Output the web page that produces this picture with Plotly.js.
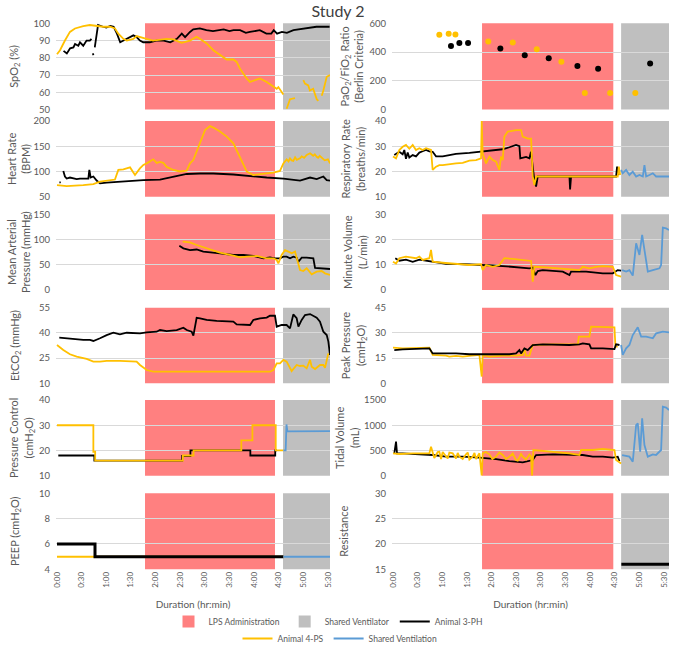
<!DOCTYPE html>
<html><head><meta charset="utf-8">
<script src="https://cdn.plot.ly/plotly-3.0.1.min.js"></script>
<style>html,body{margin:0;padding:0;background:#fff}#chart{width:676px;height:645px}</style>
</head><body><div id="chart"></div>
<script>
// ---------- DATA (time in minutes) ----------
const xTickVals = [0,30,60,90,120,150,180,210,240,270,300,330];
const xTickText = ["0:00","0:30","1:00","1:30","2:00","2:30","3:00","3:30","4:00","4:30","5:00","5:30"];

// intervals [start,end] per column
const lpsLeft = [107.2, 265.5];
const sharedLeft = [275.3, 332.5];
const lpsRight = [108.4, 268.2];
const sharedRight = [277.7, 336];

// SpO2 (%)
const spo2_PH_t = [8,12,16,20,22,26,28,32,36,40,42,null,43.5,44.5,null,46,50,56,60,65,69,73,77,81,85,93,97,101,105,113,121,130,138,146,152,156,162,166,174,182,190,195,203,210,215,223,230,235,240,247,255,261,264,268,274,280,288,296,304,316,332];
const spo2_PH_v = [84,82.5,85.5,86,88,87,89,87,90,90,91,null,82.5,81.5,null,86,99,98,97.5,98.5,98,94,89,90,91,93,92,90,89,89,90,90,89,91,94,92,95,96.5,97,96,95.5,96,96.5,95.5,96,96,94.5,95,95.5,96,94,94,96,94,95,94.5,96,96.5,97,98,98];
const spo2_PS_t = [0,3.7,9.7,15.8,21.9,32,40,48,56,64.6,70.6,74.7,80.8,85,93,97,101,109,117,125.5,133.6,141.7,151.8,162,170,174,182.3,190.4,198.5,206.7,214.8,218.8,222.9,231,235,243.2,247.2,255.4,259.4,263.5,267.6,269.6,275.7,null,279.7,283.8,289.9,null,300,302,306,308,312,316.3,318.3,null,322.4,324.4,328.5,332.5];
const spo2_PS_v = [82,84.4,90,95,97,98.4,99,98.4,98,98,97,94,91,90,91,92.6,92.2,91,90,90.7,91,90.7,88.7,90,92.2,91,88.3,84.4,81.5,79,79,77.6,73.7,68,66,67.3,68,66,64.6,63,62,63,58.7,null,50.4,56,56.6,null,67,65,64,61,62,56,55,null,58,61,69,70];

// PaO2/FiO2
const pf_PH_t = [70.6,80.8,91.4,130.7,160.4,189.6,224.5,249.7,313];
const pf_PH_v = [442,463,463,424,378,357,302,284,321];
const pf_PS_t = [56.4,67.8,76,116,145.8,175,205,233.5,264.3,295];
const pf_PS_v = [520,527,522,474,467,419,332,115,115,115];

// Heart rate (BPM)
const hr_PH_t = [3,4.5,null,7.7,9.7,11.8,15.8,24,28,38.2,39.4,41,44.3,48.3,52.4,60.5,76.7,93,105.2,125.5,141.7,158,174.2,190.4,214.8,239.1,255.4,275.7,287.8,296,308.2,316.3,324.4,328.5,332.5];
const hr_PH_v = [78,78.8,null,101,90,86,88,85,86,86,103,88,90,82,76.4,78,80,82,83,84,90,95,96,96,94,90,88,86,83,82,88,85,90,83,82];
const hr_PS_t = [0,11.8,32,44.3,52.4,64.6,70.6,74.7,80.8,89,95,101,105.2,109.2,117.3,121.4,125.5,129.5,133.6,141.7,149.8,158,162,166,174.2,180.3,186.4,190.4,198.5,206.7,214.8,222.9,231,239.1,247.3,255.4,263.5,271.6,275.7,279.7,282,283.8,285.8,287.8,290,292,296,298,301,304.1,306,308.2,312,314,316.3,318,320,324.4,326,330,332.5];
const hr_PS_v = [73,71,73,75,80,83,84,103,104,108,93,106,113,116,124,117,119,117,109,103,100,101.5,116,122.6,155.7,182,190,187,179,169,155.7,129,100,93,94,96,97.5,101,116,124,120,126,122,121,128,123,126,130,127,132.6,134,136,131,134,129,127,131,124,122,124,116];

// Respiratory rate (breaths/min)
const rr_PH_t = [1.6,7.7,11.8,13.8,15.8,17.9,19.9,24,28,32.1,36.1,40.2,44.3,48.3,52.4,60.5,68.6,76.7,93,105.2,113.3,125.5,133.6,141.7,149.8,153.9,155,162,166,168,170.1,172.1,174.2,176.2,214.8,215.6,216.8,271.6,272.8,274.9];
const rr_PH_v = [26.5,27.8,26.8,28.5,25,27.5,25.5,26.5,26,27.5,28,28.5,28,27.8,26,26,26.5,27,27.4,27.8,28.2,28.5,28.8,29.6,30.5,30,25.2,25.8,25.2,27.8,21.9,16.6,14,18,18,12.9,18,18,21.9,18.6];
const rr_PS_t = [0,3.7,7.7,11.8,15.8,19.9,24,28,32.1,36.1,40.2,44.3,46.3,48.3,52.4,56.4,60.5,76.7,84.9,93,101.1,107.2,108,109.2,113.3,117.3,121.4,125.5,129.5,131.5,133.6,135.6,139.7,149.8,155.9,157.9,164,168.1,170.1,172.1,174.2,273.6,274.9,276.5];
const rr_PS_v = [25.9,25.2,28.5,29.8,30.5,29,30.5,28.5,29.2,28.5,29.2,28.8,28.5,20.6,21.9,22.5,22.5,23.2,23.4,24.3,24.5,25.2,40,27,23.2,25.9,24.5,23.9,20.6,25.9,24.5,33.8,35.8,36.4,36.4,33.8,33,33,18,14.6,18,18,21.9,18.6];
const rr_SV_t = [277.7,279.7,283.8,287.8,291.9,296,300,304.1,306.1,308.2,312.2,316.3,320.3,336];
const rr_SV_v = [20.6,19.3,20.6,18.6,19.9,18,18.6,18,22.5,18,18.6,19.3,18,18];

// Mean arterial pressure (mmHg)
const map_PH_t = [149,153.9,162,170.1,178.2,190.4,198.5,214.8,227,239.1,251.3,259.4,265.5,271.6,275.7,279.7,283.8,287.8,291.9,294,298,304.1,310.2,312.2,314.3,320.3,328.5,332.5];
const map_PH_v = [87.9,82.6,79,80.3,76,74.7,72.7,69.4,69.4,67.4,62.8,64.7,62.8,62.8,66,66,62.8,66,64,56,64,64,64,62.8,44,43,43,41.6];
const map_PS_t = [153.1,158,162,170.1,182.3,198.5,214.8,222.9,231,243.2,255.4,263.5,267.6,269.6,273.6,277.7,281.8,285.8,289.9,291.9,296,300,304.1,310.2,316.3,322.4,326.4,332.5];
const map_PS_v = [95.8,94.5,94.5,89.2,82.6,74,68,64.7,66,67.4,62.8,62.8,59.4,52.8,69.4,79,76,72.7,76,62.8,39.6,37.6,43,31,36.3,37.6,33,29.7];

// Minute volume (L/min)
const mv_PH_t = [2.8,7.7,15.8,24,32.1,40.2,52.4,64.6,80.8,93,109.2,121.4,133.6,149.8,166,170.1,173.4,176.2,182.3,206.7,214.8,216.8,235.1,255.4,267.6,273.6,277.7];
const mv_PH_v = [12.6,11.6,12,11.2,12,11.6,11,10.4,10.3,10.2,9.9,9.7,9.5,9.2,8.6,8.9,5.9,7.5,7.9,7.3,5.9,7.3,7.3,6.6,6.6,7.9,7.7];
const mv_PS_t = [0,3.7,7.7,15.8,28,32.1,36.1,44.3,46.3,48.3,60.5,76.7,93,107.2,109.2,113.3,121.4,129.5,135.6,145.8,158,168.1,170.1,172.1,190.4,210.7,227,231,239.1,247.3,255.4,267.6,269.6,271.6,277.7];
const mv_PS_v = [11.2,10.5,12.6,13.2,12.6,13.2,11.9,12.6,15.9,11.2,10.8,10.3,9.9,10.2,7.9,9.9,9.2,9.9,12.6,12.3,11.9,11.5,3.3,9.2,8.9,8.3,7.9,9.2,8.6,9.2,9.5,9.2,7.5,5.9,5.3];
const mv_SV_t = [278.9,283.8,287.8,291.9,296,300,303.3,306.1,310.2,316.3,324.4,326.4,328.5,332.5,336];
const mv_SV_v = [7.9,7.3,7.9,5.7,18.5,13.9,21.8,16.5,7.3,7.9,8.6,9.9,24.7,24.4,23.8];

// EtCO2 (mmHg)
const et_PH_t = [2.8,11.8,19.9,32.1,40.2,44.3,52.4,60.5,68.6,76.7,84.9,93,101.1,109.2,121.4,125.5,133.6,145.8,153.9,158,164,166.1,170.1,174.2,182.3,194.5,210.7,214.8,218.8,227,235.1,239.1,247.3,255.4,259.4,265.5,267.6,273.6,279.7,283.8,287.8,291.9,294,298,302.1,308.2,316.3,320.3,324.4,328.5,330.5,332.5];
const et_PH_v = [37.2,36.7,36.2,35.8,35.8,35.2,36.8,38.7,40.1,39.1,40.1,39.7,39.7,40.3,40.7,41.7,41.1,41.7,43.1,41.7,40.7,38.4,49,48.7,47.7,47.1,47.1,46.7,45.1,44.7,44.7,47.7,48.7,49.1,50.2,50.2,43.7,44.7,44.7,42.7,51,48.7,43.7,47.7,50.6,51.2,49,46.7,40.7,38.7,34.8,26.9];
const et_PS_t = [0,7.7,15.8,24,36.1,44.3,52.4,60.5,76.7,93,97,101.1,109.2,117.3,259.4,263.5,267.6,271.6,275.7,279.7,285.8,291.9,296,300,304.1,308.2,310.2,314.3,320.3,324.4,326.4,330.5];
const et_PS_v = [32.8,29.8,27.3,25.9,24.5,22.9,22.9,23.3,23.3,22.9,22.9,20.9,17.9,16.9,16.9,17.9,21.9,21.9,23.9,22.9,17.3,20.9,20.3,20.5,18.9,23.9,19.9,18.5,20.9,20.9,19.3,27.8];

// Peak pressure (cmH2O)
const pp_PH_t = [1.6,11.8,44.3,48.3,60.5,76.7,93,105.2,117.3,125.5,141.7,149.8,153.9,155.9,160,164,170.1,182.3,214.8,227,231,239.1,241.2,255.4,269.6,271.6,275.7];
const pp_PH_v = [19.8,20.2,20.8,17.8,17.8,17.8,17.3,17.3,16.9,17.3,17.3,17.8,19.8,17.8,20.8,19.8,22.8,23.2,22.8,23.2,23.8,23.2,20.8,20.8,20.4,23.2,22.8];
const pp_PS_t = [0,11.8,44.3,48.3,64.6,68.6,76.7,84.9,93,105.2,108,109.2,117.3,133.6,149.8,158,160,162,166.1,170.1,194.5,214.8,225,226.3,239.1,241.2,269.6,270.8,273.6];
const pp_PS_v = [21.2,20.8,21.2,16.9,16.5,15.9,16.3,15.9,16.3,16.9,4,16.9,15.9,16.5,16.5,16.9,20.8,16.5,16.5,22.8,23.2,23.2,23.2,27.8,27.8,33.7,33.3,21.8,21.8];
const pp_SV_t = [277.7,279.7,283.8,287.8,291.9,298,302.1,308.2,316.3,320.3,328.5,336];
const pp_SV_v = [22.8,16.9,20.8,22.8,28.7,33.3,27.8,27.8,26.8,29.7,30.7,30.3];

// Pressure control (cmH2O)
const pc_PH_t = [1.6,44.3,45.5,152.5,162.5,235.5,265.8,268];
const pc_PH_v = [18,18,16,17.8,20,18,20,20];
const pc_PS_t = [0,44.3,46.5,153.3,166.3,224.5,238,266.4,275.7];
const pc_PS_v = [30,19.5,16,18,20,24,30,20,20];
const pc_SV_t = [275.7,278.5,279.5,280.6,332.5];
const pc_SV_v = [20,20,30.3,27.6,27.7];

// Tidal volume (mL)
const tv_PH_t = [1.6,3.7,4.9,11.8,32.1,48.3,64.6,84.9,105.2,125.5,141.7,158,170.1,174.2,194.5,214.8,231,243.2,255.4,267.6,273.6,275.7];
const tv_PH_v = [443,674,443,443,423,410,377,377,357,330,290,264,310,410,423,423,410,377,377,357,377,290];
const tv_PS_t = [0,7.7,24,44.3,46.3,48.3,50.3,52.4,54.4,56.4,58.5,60.5,64.6,66.6,68.6,72.7,76.7,78.8,80.8,84.9,88.9,91,93,97,99.2,101,105.2,108,109.2,113,117.3,121,125.5,129.5,133.6,137.6,141.7,145.8,149.8,151.8,155.9,158,162,166.1,168.1,169.3,170.9,194.5,214.8,227,229.1,243.2,255.4,269.6,271.6,277.7];
const tv_PS_v = [443,430,443,443,575,443,350,410,470,476,330,470,390,340,460,443,340,450,377,330,423,460,320,377,450,330,443,0,443,470,423,330,377,460,410,330,377,440,310,300,430,377,320,420,377,0,509,476,443,410,509,509,529,509,310,244];
const tv_SV_t = [278.9,287.8,291.9,296,298,300.9,303.3,306.1,310.2,316.3,320.3,324.4,326.4,328.5,332.5,336];
const tv_SV_v = [410,377,278,1004,1037,476,1137,608,377,423,410,476,509,1368,1348,1302];

// PEEP (cmH2O)
const peep_PH_t = [0,46.3,275.7];
const peep_PH_v = [6,5,5];
const peep_PS_t = [0,275.7];
const peep_PS_v = [5,5];
const peep_SV_t = [275.7,332.5];
const peep_SV_v = [5,5];

// Resistance
const res_PH_t = [278,336];
const res_PH_v = [16,16];

// ---------- STYLE ----------
const C_PH = '#000000', C_PS = '#FFC000', C_SV = '#5B9BD5';
const C_LPS = '#FF8080', C_SHARED = '#BFBFBF';
const FONT = 'Lato, "Open Sans", sans-serif';

const panels = [
  {title:'SpO<sub>2</sub> (%)', range:[50,100], ticks:[50,60,70,80,90,100], so:12},
  {title:'PaO<sub>2</sub>/FiO<sub>2</sub> Ratio<br>(Berlin Criteria)', range:[0,600], ticks:[0,200,400,600], so:3},
  {title:'Heart Rate<br>(BPM)', range:[50,200], ticks:[50,100,150,200], so:0},
  {title:'Respiratory Rate<br>(breaths/min)', range:[10,40], ticks:[10,20,30,40], so:7},
  {title:'Mean Arterial<br>Pressure (mmHg)', range:[0,150], ticks:[0,50,100,150], so:0},
  {title:'Minute Volume<br>(L/min)', range:[0,30], ticks:[0,10,20,30], so:5},
  {title:'EtCO<sub>2</sub> (mmHg)', range:[10,55], ticks:[10,25,40,55], so:17},
  {title:'Peak Pressure<br>(cmH<sub>2</sub>O)', range:[0,45], ticks:[0,15,30,45], so:7},
  {title:'Pressure Control<br>(cmH<sub>2</sub>O)', range:[10,40], ticks:[10,20,30,40], so:3},
  {title:'Tidal Volume<br>(mL)', range:[0,1500], ticks:[0,500,1000,1500], so:2},
  {title:'PEEP (cmH<sub>2</sub>O)', range:[4,10], ticks:[4,6,8,10], so:17},
  {title:'Resistance', range:[15,30], ticks:[15,20,25,30], so:24}
];

const W = 676, H = 645;
const colPx = [[56,330],[392,669]];
const rowPx = [[23.3,109.5],[121,196.7],[214.3,290],[307.7,383.3],[400,475.7],[493.3,569.3]];
const xRanges = [[-1.2,332.5],[-1.2,336]];

const traces = [];
function line(n, t, v, color, name, opts) {
  opts = opts || {};
  const sfx = n === 1 ? '' : String(n);
  traces.push(Object.assign({
    type:'scatter', mode:'lines', x:t, y:v, xaxis:'x'+sfx, yaxis:'y'+sfx,
    name:name || '', line:{color:color, width:opts.width||1.8, shape:opts.shape||'linear'},
    connectgaps:false, showlegend:false, hoverinfo:'skip'
  }, opts.extra||{}));
}

// Panel 1 SpO2
line(1, spo2_PH_t, spo2_PH_v, C_PH, 'Animal 3-PH', {extra:{showlegend:true, legend:'legend', legendrank:3}});
line(1, spo2_PS_t, spo2_PS_v, C_PS, 'Animal 4-PS', {extra:{showlegend:true, legend:'legend2', legendrank:1}});
// Panel 2 PaO2/FiO2
traces.push({type:'scatter', mode:'markers', x:pf_PS_t, y:pf_PS_v, xaxis:'x2', yaxis:'y2', marker:{color:C_PS,size:6}, showlegend:false, hoverinfo:'skip'});
traces.push({type:'scatter', mode:'markers', x:pf_PH_t, y:pf_PH_v, xaxis:'x2', yaxis:'y2', marker:{color:C_PH,size:6}, showlegend:false, hoverinfo:'skip'});
// Panel 3 HR
line(3, hr_PH_t, hr_PH_v, C_PH);
line(3, hr_PS_t, hr_PS_v, C_PS);
// Panel 4 RR
line(4, rr_PH_t, rr_PH_v, C_PH);
line(4, rr_PS_t, rr_PS_v, C_PS);
line(4, rr_SV_t, rr_SV_v, C_SV, 'Shared Ventilation', {extra:{showlegend:true, legend:'legend2', legendrank:2}});
// Panel 5 MAP
line(5, map_PH_t, map_PH_v, C_PH);
line(5, map_PS_t, map_PS_v, C_PS);
// Panel 6 MV
line(6, mv_PH_t, mv_PH_v, C_PH);
line(6, mv_PS_t, mv_PS_v, C_PS);
line(6, mv_SV_t, mv_SV_v, C_SV);
// Panel 7 EtCO2
line(7, et_PH_t, et_PH_v, C_PH);
line(7, et_PS_t, et_PS_v, C_PS);
// Panel 8 PP
line(8, pp_PS_t, pp_PS_v, C_PS);
line(8, pp_PH_t, pp_PH_v, C_PH);
line(8, pp_SV_t, pp_SV_v, C_SV);
// Panel 9 PC
line(9, pc_PH_t, pc_PH_v, C_PH, null, {shape:'hv'});
line(9, pc_PS_t, pc_PS_v, C_PS, null, {shape:'hv'});
line(9, pc_SV_t, pc_SV_v, C_SV);
// Panel 10 TV
line(10, tv_PH_t, tv_PH_v, C_PH);
line(10, tv_PS_t, tv_PS_v, C_PS);
line(10, tv_SV_t, tv_SV_v, C_SV);
// Panel 11 PEEP
line(11, peep_PS_t, peep_PS_v, C_PS, null, {shape:'hv', width:2});
line(11, peep_PH_t, peep_PH_v, C_PH, null, {shape:'hv', width:3});
line(11, peep_SV_t, peep_SV_v, C_SV, null, {width:2});
// Panel 12 Resistance
line(12, res_PH_t, res_PH_v, C_PH, null, {width:3});

const layout = {
  width:W, height:H, margin:{l:0,r:0,t:0,b:0,pad:0,autoexpand:false},
  paper_bgcolor:'#ffffff', plot_bgcolor:'rgba(0,0,0,0)',
  font:{family:FONT, color:'#595959', size:9},
  title:{text:'Study 2', x:0.5, xanchor:'center', y:1-11/H, yanchor:'middle', font:{family:FONT, size:16, color:'#404040'}},
  showlegend:true,
  legend:{orientation:'h', x:328/W, xanchor:'center', y:1-607/H, yanchor:'top', font:{family:FONT, size:8.5, color:'#595959'}, bgcolor:'rgba(0,0,0,0)', itemwidth:30},
  legend2:{orientation:'h', x:340/W, xanchor:'center', y:1-624/H, yanchor:'top', font:{family:FONT, size:8.5, color:'#595959'}, bgcolor:'rgba(0,0,0,0)', itemwidth:30},
  shapes:[], hovermode:false
};

for (let n = 1; n <= 12; n++) {
  const col = (n-1) % 2, row = Math.floor((n-1)/2);
  const sfx = n === 1 ? '' : String(n);
  const p = panels[n-1];
  const cx = colPx[col], ry = rowPx[row];
  const xa = {
    domain:[cx[0]/W, cx[1]/W], range:xRanges[col], anchor:'y'+sfx,
    showgrid:false, zeroline:false, showline:false, ticks:'',
    tickmode:'array', tickvals:xTickVals, ticktext:xTickText,
    showticklabels: row === 5, tickangle:-90, tickfont:{family:FONT, size:8, color:'#595959'}
  };
  if (row === 5) xa.title = {text:'Duration (hr:min)', font:{family:FONT, size:10, color:'#595959'}, standoff:14};
  layout['xaxis'+sfx] = xa;
  layout['yaxis'+sfx] = {
    domain:[1-ry[1]/H, 1-ry[0]/H], range:p.range, anchor:'x'+sfx,
    tickmode:'array', tickvals:p.ticks, showgrid:true, gridcolor:'#D9D9D9', gridwidth:1,
    zeroline:false, showline:false, ticks:'', ticklabelstandoff:5,
    tickfont:{family:FONT, size:9.5, color:'#595959'},
    title:{text:p.title, font:{family:FONT, size:11, color:'#595959'}, standoff:p.so}
  };
  const lps = col === 0 ? lpsLeft : lpsRight;
  const sh = col === 0 ? sharedLeft : sharedRight;
  layout.shapes.push({type:'rect', xref:'x'+sfx, yref:'y'+sfx+' domain', x0:lps[0], x1:lps[1], y0:0, y1:1,
    fillcolor:C_LPS, line:{width:0}, layer:'below',
    showlegend: n === 1, name:'LPS Administration', legend:'legend', legendrank:1});
  layout.shapes.push({type:'rect', xref:'x'+sfx, yref:'y'+sfx+' domain', x0:sh[0], x1:sh[1], y0:0, y1:1,
    fillcolor:C_SHARED, line:{width:0}, layer:'below',
    showlegend: n === 1, name:'Shared Ventilator', legend:'legend', legendrank:2});
}

Plotly.newPlot('chart', traces, layout, {displayModeBar:false, staticPlot:true});
</script></body></html>
